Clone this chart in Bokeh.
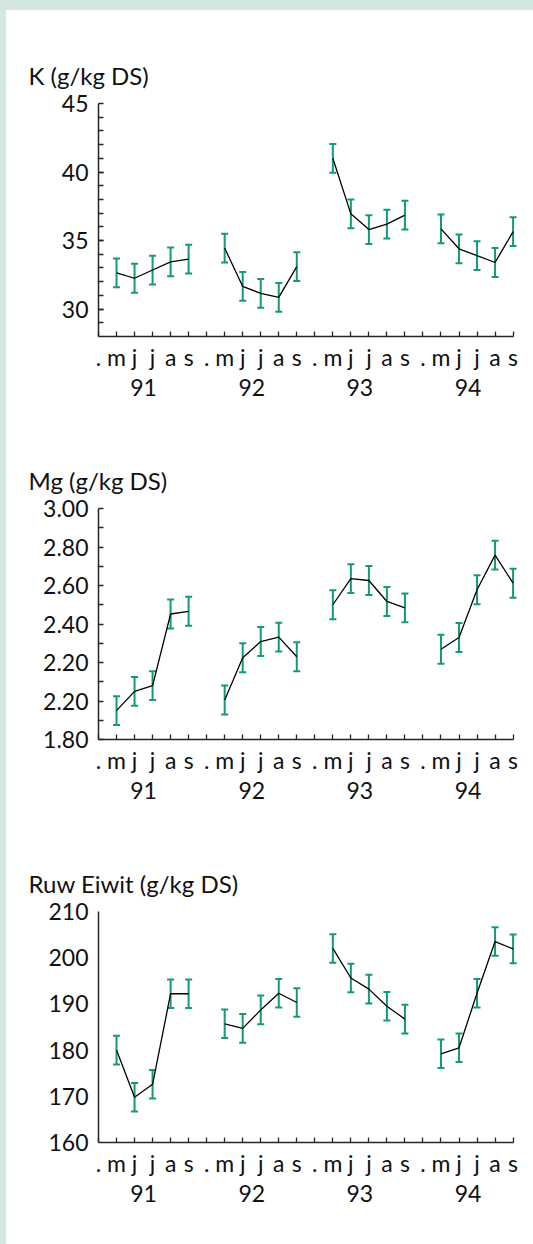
from bokeh.plotting import figure
from bokeh.layouts import column
from bokeh.models import (ColumnDataSource, Range1d, FixedTicker, LinearAxis,
                          Whisker, TeeHead, Title)
from bokeh.embed import file_html
from bokeh.resources import INLINE

# ---------------- data ----------------
years = ["91", "92", "93", "94"]
months = ["m", "j", "j", "a", "s"]
slot_labels = [".", "m", "j", "j", "a", "s"]

k_values = [32.65, 32.25, 32.85, 33.45, 33.65,
            34.45, 31.65, 31.15, 30.85, 33.1,
            41.0, 36.95, 35.8, 36.2, 36.85,
            35.85, 34.4, 33.9, 33.4, 35.65]
k_err = [1.05] * 20

mg_values = [1.95, 2.05, 2.08, 2.452, 2.466,
             2.005, 2.225, 2.309, 2.332, 2.23,
             2.50, 2.636, 2.626, 2.517, 2.484,
             2.269, 2.33, 2.578, 2.758, 2.612]
mg_err = [0.075] * 20

re_values = [180.0, 169.8, 172.6, 192.2, 192.2,
             185.7, 184.7, 188.7, 192.3, 190.3,
             202.0, 195.6, 193.2, 189.5, 186.7,
             179.2, 180.5, 192.3, 203.5, 201.9]
re_err = [3.1] * 20

k_ticks = [30, 35, 40, 45]
k_minor = list(range(29, 45))
mg_ticks = [1.8, 2.0, 2.2, 2.4, 2.6, 2.8, 3.0]
mg_tick_labels = ["1.80", "2.20", "2.20", "2.40", "2.60", "2.80", "3.00"]
mg_minor = [1.9, 2.1, 2.3, 2.5, 2.7, 2.9]
re_ticks = [160, 170, 180, 190, 200, 210]

GREEN = "#13997b"
AXIS = "#262626"
TEXT = "#111111"
FONT = "Lato"
BG = "#d3e7df"


def xpos():
    xs = []
    for yi in range(len(years)):
        for mi in range(len(months)):
            xs.append(yi * len(slot_labels) + mi + 1)
    return xs


def make_chart(title, values, err, yrange, ticks, tick_labels, minor,
               show_yticks, height, top, bottom):
    p = figure(width=533, height=height, output_backend="svg",
               toolbar_location=None, x_axis_type=None,
               min_border_left=98, min_border_right=15,
               min_border_top=top, min_border_bottom=bottom)
    p.border_fill_color = None
    p.background_fill_color = None
    p.outline_line_color = None
    p.xgrid.visible = False
    p.ygrid.visible = False
    n_slots = len(years) * len(slot_labels)
    last = n_slots - 1
    # a little room right of the last slot so its error bar caps are not clipped
    p.x_range = Range1d(0, last + 0.3)
    p.y_range = Range1d(*yrange)

    # title
    t = Title(text=title, align="left", offset=-70, standoff=28,
              text_font=FONT, text_font_size="24px",
              text_font_style="normal", text_color=TEXT)
    p.add_layout(t, "above")

    # y axis
    ya = p.yaxis[0]
    ya.ticker = FixedTicker(ticks=ticks, minor_ticks=minor)
    ya.major_label_overrides = {tk: lb for tk, lb in zip(ticks, tick_labels)}
    ya.axis_line_color = AXIS
    ya.axis_line_width = 1.5
    ya.major_tick_line_color = AXIS if show_yticks else None
    ya.minor_tick_line_color = AXIS if show_yticks else None
    ya.major_tick_in = 5
    ya.major_tick_out = 0
    ya.minor_tick_in = 5
    ya.minor_tick_out = 0
    ya.major_tick_line_width = 1.3
    ya.minor_tick_line_width = 1.3
    ya.major_label_standoff = 10
    ya.major_label_text_font = FONT
    ya.major_label_text_font_size = "23px"
    ya.major_label_text_color = TEXT

    # x axis: month letters
    xa = LinearAxis(bounds=(0, last))
    xa.ticker = FixedTicker(ticks=list(range(n_slots)), minor_ticks=[])
    xa.major_label_overrides = {i: slot_labels[i % len(slot_labels)]
                                for i in range(n_slots)}
    xa.axis_line_color = AXIS
    xa.axis_line_width = 1.5
    xa.major_tick_line_color = AXIS
    xa.major_tick_line_width = 1.3
    xa.major_tick_in = 5
    xa.major_tick_out = 0
    xa.minor_tick_line_color = None
    xa.major_label_standoff = 6
    xa.major_label_text_font = FONT
    xa.major_label_text_font_size = "23px"
    xa.major_label_text_color = TEXT
    p.add_layout(xa, "below")

    # x axis: years
    ya2 = LinearAxis()
    centers = [yi * len(slot_labels) + 2.5 for yi in range(len(years))]
    ya2.ticker = FixedTicker(ticks=centers, minor_ticks=[])
    ya2.major_label_overrides = {c: y for c, y in zip(centers, years)}
    ya2.axis_line_color = None
    ya2.major_tick_line_color = None
    ya2.minor_tick_line_color = None
    ya2.major_label_standoff = -1
    ya2.major_label_text_font = FONT
    ya2.major_label_text_font_size = "23px"
    ya2.major_label_text_color = TEXT
    p.add_layout(ya2, "below")

    xs = xpos()
    src = ColumnDataSource(dict(
        x=xs, y=values,
        upper=[v + e for v, e in zip(values, err)],
        lower=[v - e for v, e in zip(values, err)]))
    w = Whisker(source=src, base="x", upper="upper", lower="lower",
                line_color=GREEN, line_width=2,
                upper_head=TeeHead(size=7, line_color=GREEN, line_width=2),
                lower_head=TeeHead(size=7, line_color=GREEN, line_width=2))
    p.add_layout(w)

    m = len(months)
    for yi in range(len(years)):
        p.line(xs[yi * m:(yi + 1) * m], values[yi * m:(yi + 1) * m],
               line_color="black", line_width=1.3)
    return p


p1 = make_chart("K (g/kg DS)", k_values, k_err, (28, 45), k_ticks,
                [str(t) for t in k_ticks], k_minor, True, 412, 103, 76)
p2 = make_chart("Mg (g/kg DS)", mg_values, mg_err, (1.8, 3.0), mg_ticks,
                mg_tick_labels, mg_minor, True, 403, 96, 76)
p3 = make_chart("Ruw Eiwit (g/kg DS)", re_values, re_err, (160, 210), re_ticks,
                [str(t) for t in re_ticks], [], False, 429, 96, 102)

layout = column(p1, p2, p3, spacing=0)

html = file_html(layout, INLINE, title="chart")
style = ("<style>html{background-color:#ffffff;"
         "background-image:linear-gradient(to bottom," + BG + " 10px,rgba(0,0,0,0) 10px),"
         "linear-gradient(to right," + BG + " 6px,#ffffff 6px);"
         "background-repeat:no-repeat;background-size:100% 100%;"
         "background-attachment:fixed;}</style>")
html = html.replace("</head>", style + "</head>", 1)
open("out.html", "w").write(html)
